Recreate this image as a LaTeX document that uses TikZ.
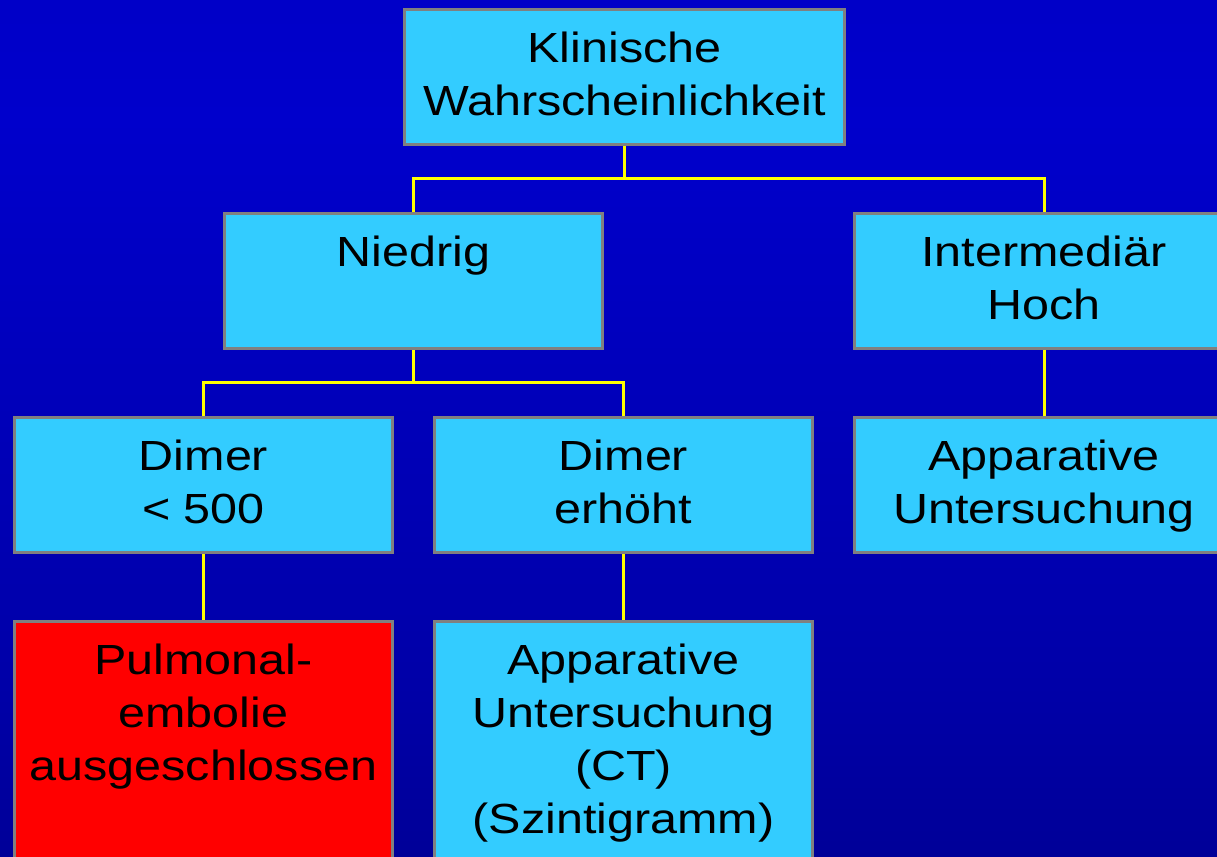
\documentclass[tikz,border=0pt]{standalone}
\usepackage{fontspec}
\setmainfont{Liberation Sans}[FakeStretch=1.15]
\usepackage{tikz}
\usetikzlibrary{positioning}
\definecolor{boxcyan}{RGB}{51,204,255}
\definecolor{boxred}{RGB}{255,0,0}
\definecolor{boxgray}{RGB}{128,128,128}
\definecolor{linkyellow}{RGB}{255,255,0}
\definecolor{bgtop}{RGB}{0,0,184}
\definecolor{bgmid}{RGB}{0,0,204}
\definecolor{bglow}{RGB}{0,0,168}
\definecolor{bgbot}{RGB}{0,0,112}
\pgfdeclareverticalshading{slidebg}{100bp}{color(0bp)=(bgbot); color(35bp)=(bglow); color(68bp)=(bgmid); color(100bp)=(bgtop)}
\newcommand{\boxlines}[3]{\parbox[t][#2][t]{#1}{\centering\rule{0pt}{1.07cm}#3}}

\begin{document}
\begin{tikzpicture}[x=0.02cm,y=-0.02cm,font=\fontsize{24}{30.16}\selectfont]
  \tikzstyle{box}=[draw=boxgray, line width=1.7pt, fill=boxcyan, inner sep=0pt, anchor=north]
  \tikzstyle{link}=[draw=linkyellow, line width=1.7pt]
  \useasboundingbox (0,0) rectangle (1217,857);
  \clip (0,0) rectangle (1217,857);
  \shade[shading=slidebg] (0,0) rectangle (1217,857);

  \node[box] (W_1) at (624.5,8)  {\boxlines{8.82cm}{2.7cm}{Klinische\\Wahrscheinlichkeit}};
  \node[box] (W_2) at (413.5,212) {\boxlines{7.58cm}{2.7cm}{Niedrig}};
  \node[box] (W_3) at (1044,212) {\boxlines{7.58cm}{2.7cm}{Intermediär\\Hoch}};
  \node[box] (W_4) at (203.5,416) {\boxlines{7.58cm}{2.7cm}{Dimer\\< 500}};
  \node[box] (W_5) at (623.5,416) {\boxlines{7.58cm}{2.7cm}{Dimer\\erhöht}};
  \node[box] (W_6) at (1044,416) {\boxlines{7.58cm}{2.7cm}{Apparative\\Untersuchung}};
  \node[box, fill=boxred] (W_7) at (203.5,620) {\boxlines{7.58cm}{5.2cm}{Pulmonal-\\embolie\\ausgeschlossen}};
  \node[box] (W_8) at (623.5,620) {\boxlines{7.58cm}{5.2cm}{Apparative\\Untersuchung\\(CT)\\(Szintigramm)}};

  \draw[link] (W_1.south) -- ++(0,32.5) -| (W_2.north);
  \draw[link] (W_1.south) -- ++(0,32.5) -| (W_3.north);
  \draw[link] (W_2.south) -- ++(0,32.5) -| (W_4.north);
  \draw[link] (W_2.south) -- ++(0,32.5) -| (W_5.north);
  \draw[link] (W_3.south) -- (W_6.north);
  \draw[link] (W_4.south) -- (W_7.north);
  \draw[link] (W_5.south) -- (W_8.north);
\end{tikzpicture}
\end{document}
